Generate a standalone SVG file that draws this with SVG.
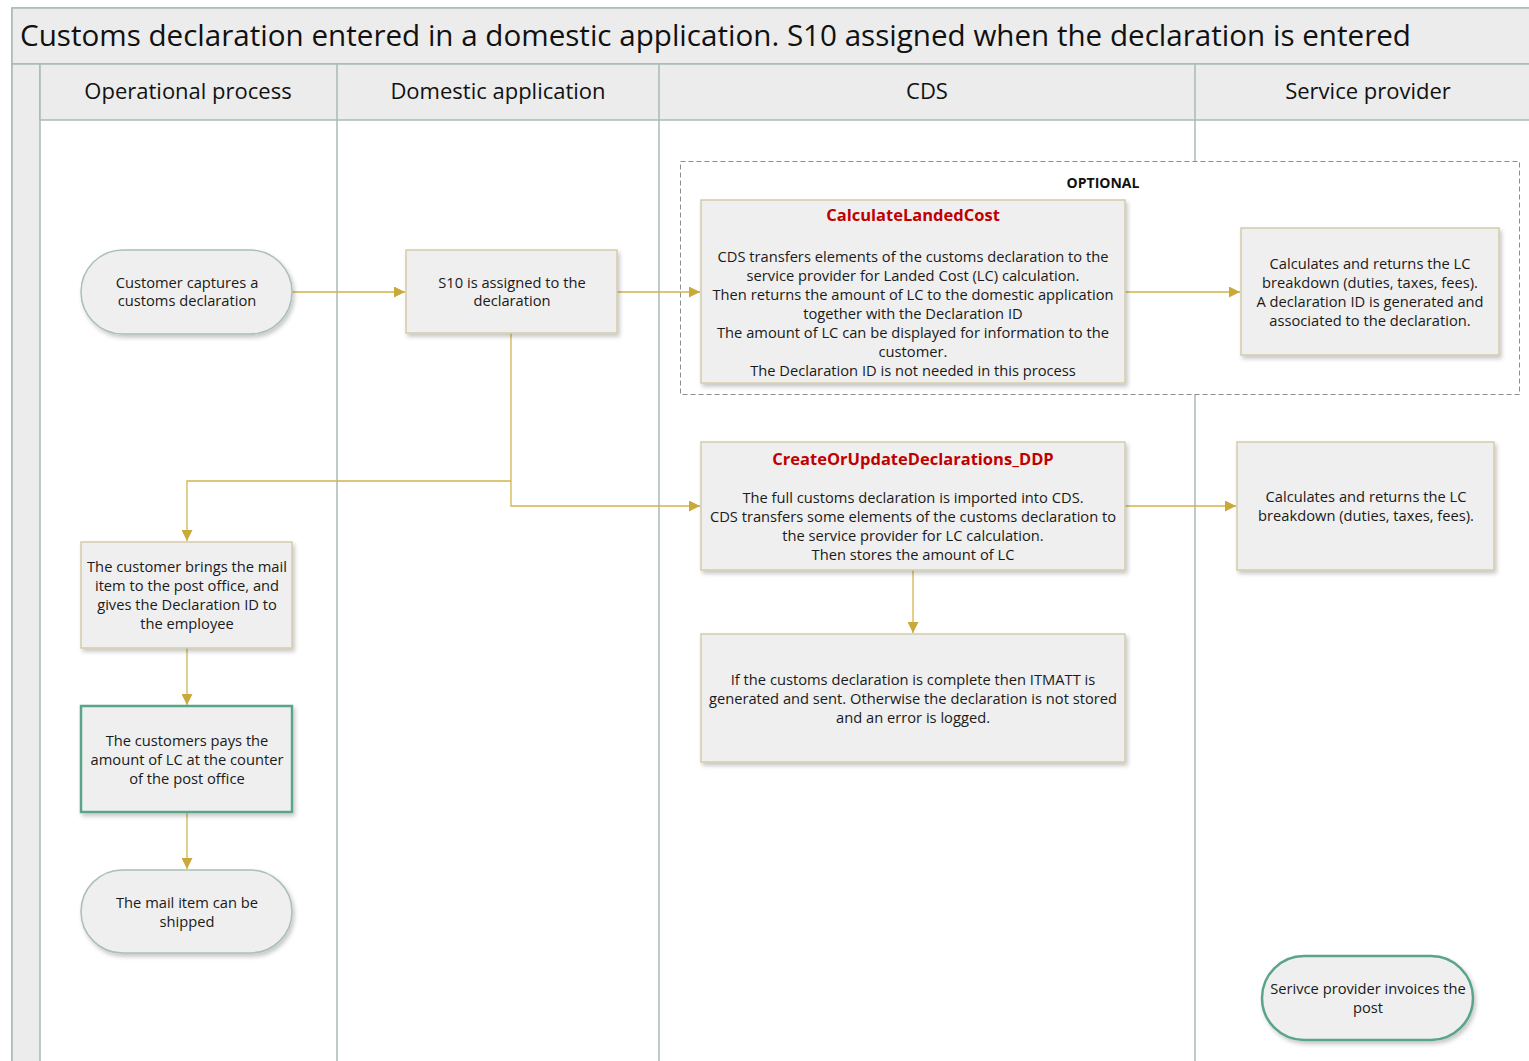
<svg xmlns="http://www.w3.org/2000/svg" width="1529" height="1061" viewBox="0 0 1529 1061">
<style>
.t{font-family:"Open Sans","Noto Sans","Liberation Sans",sans-serif;font-size:14.7px;fill:#1a1a1a;text-anchor:middle}
.h{font-family:"Open Sans","Noto Sans","Liberation Sans",sans-serif;font-size:22px;fill:#111;text-anchor:middle}
.red{font-family:"Open Sans","Noto Sans","Liberation Sans",sans-serif;font-size:16.5px;font-weight:bold;fill:#c00000;text-anchor:middle}
.box{fill:#efefef;stroke:#d3ccaa;stroke-width:1.5;filter:url(#sh)}
.stad{fill:#efefef;stroke:#a9bfb6;stroke-width:1.5;filter:url(#sh)}
.green{fill:#efefef;stroke:#5aa58a;stroke-width:2.5;filter:url(#sh)}
.lane{stroke:#a7bbb4;stroke-width:1.5;fill:none}
.c{stroke:#d1b54d;stroke-width:1.3;fill:none;marker-end:url(#ah)}
</style>
<defs>
<filter id="sh" x="-10%" y="-10%" width="130%" height="130%">
<feDropShadow dx="2" dy="3" stdDeviation="2" flood-color="#000" flood-opacity="0.22"/>
</filter>
<marker id="ah" viewBox="0 0 10 10" refX="10" refY="5" markerWidth="11" markerHeight="11" markerUnits="userSpaceOnUse" orient="auto">
<path d="M0,0 L10,5 L0,10 z" fill="#c9a93a"/>
</marker>
</defs>
<rect width="1529" height="1061" fill="#fff"/>
<g id="pool">
<rect x="12" y="8" width="1530" height="1070" fill="#fff" stroke="#a7bbb4" stroke-width="1.5"/>
<rect x="12" y="8" width="1530" height="56" fill="#ececec" stroke="#a7bbb4" stroke-width="1.5"/>
<text x="20" y="46" style="font-family:'Open Sans','Noto Sans','Liberation Sans',sans-serif;font-size:29.6px;fill:#111">Customs declaration entered in a domestic application. S10 assigned when the declaration is entered</text>
<rect x="12" y="64" width="28" height="1010" fill="#ececec" stroke="#a7bbb4" stroke-width="1.5"/>
<rect x="40" y="64" width="1500" height="56" fill="#ececec" stroke="#a7bbb4" stroke-width="1.5"/>
<line class="lane" x1="337" y1="64" x2="337" y2="1061"/>
<line class="lane" x1="659" y1="64" x2="659" y2="1061"/>
<line class="lane" x1="1195" y1="64" x2="1195" y2="1061"/>
<text class="h" x="188" y="99">Operational process</text>
<text class="h" x="498" y="99">Domestic application</text>
<text class="h" x="927" y="99">CDS</text>
<text class="h" x="1368" y="99">Service provider</text>
</g>
<g id="optional">
<rect x="680.5" y="161.5" width="839" height="233" fill="#fff" stroke="#8c8c8c" stroke-width="1" stroke-dasharray="5,3"/>
<text x="1103" y="188" style="font-family:'Open Sans','Noto Sans','Liberation Sans',sans-serif;font-size:14px;font-weight:bold;fill:#111;text-anchor:middle">OPTIONAL</text>
</g>
<g id="connectors">
<path class="c" d="M292,292 H405"/>
<path class="c" d="M617,292 H700"/>
<path class="c" d="M1125,292 H1240"/>
<path class="c" d="M511,333 V506 H700"/>
<path class="c" d="M511,481 H187 V541"/>
<path class="c" d="M1125,506 H1236"/>
<path class="c" d="M913,570 V633"/>
<path class="c" d="M187,648 V705"/>
<path class="c" d="M187,812 V869"/>
</g>
<g id="n1"><rect class="stad" x="81" y="250" width="211" height="84" rx="42"/>
<text class="t" x="187" y="288">Customer captures a</text><text class="t" x="187" y="306">customs declaration</text></g>
<g id="n2"><rect class="box" x="406" y="250" width="211" height="83"/>
<text class="t" x="512" y="288">S10 is assigned to the</text><text class="t" x="512" y="306">declaration</text></g>
<g id="n3"><rect class="box" x="701" y="200" width="424" height="183"/>
<text class="red" x="913" y="221">CalculateLandedCost</text>
<text class="t" x="913" y="262">CDS transfers elements of the customs declaration to the</text>
<text class="t" x="913" y="281">service provider for Landed Cost (LC) calculation.</text>
<text class="t" x="913" y="300">Then returns the amount of LC to the domestic application</text>
<text class="t" x="913" y="319">together with the Declaration ID</text>
<text class="t" x="913" y="338">The amount of LC can be displayed for information to the</text>
<text class="t" x="913" y="357">customer.</text>
<text class="t" x="913" y="376">The Declaration ID is not needed in this process</text></g>
<g id="n4"><rect class="box" x="1241" y="228" width="258" height="127"/>
<text class="t" x="1370" y="269">Calculates and returns the LC</text>
<text class="t" x="1370" y="288">breakdown (duties, taxes, fees).</text>
<text class="t" x="1370" y="307">A declaration ID is generated and</text>
<text class="t" x="1370" y="326">associated to the declaration.</text></g>
<g id="n5"><rect class="box" x="701" y="442" width="424" height="128"/>
<text class="red" x="913" y="465">CreateOrUpdateDeclarations_DDP</text>
<text class="t" x="913" y="503">The full customs declaration is imported into CDS.</text>
<text class="t" x="913" y="522">CDS transfers some elements of the customs declaration to</text>
<text class="t" x="913" y="541">the service provider for LC calculation.</text>
<text class="t" x="913" y="560">Then stores the amount of LC</text></g>
<g id="n6"><rect class="box" x="1237" y="442" width="257" height="128"/>
<text class="t" x="1366" y="502">Calculates and returns the LC</text>
<text class="t" x="1366" y="521">breakdown (duties, taxes, fees).</text></g>
<g id="n7"><rect class="box" x="701" y="634" width="424" height="128"/>
<text class="t" x="913" y="685">If the customs declaration is complete then ITMATT is</text>
<text class="t" x="913" y="704">generated and sent. Otherwise the declaration  is not stored</text>
<text class="t" x="913" y="723">and an error is logged.</text></g>
<g id="n8"><rect class="box" x="81" y="542" width="211" height="106"/>
<text class="t" x="187" y="572">The customer brings the mail</text>
<text class="t" x="187" y="591">item to the post office, and</text>
<text class="t" x="187" y="610">gives the Declaration ID to</text>
<text class="t" x="187" y="629">the employee</text></g>
<g id="n9"><rect class="green" x="81" y="706" width="211" height="106"/>
<text class="t" x="187" y="746">The customers pays the</text>
<text class="t" x="187" y="765">amount of LC at the counter</text>
<text class="t" x="187" y="784">of the post office</text></g>
<g id="n10"><rect class="stad" x="81" y="870" width="211" height="83" rx="41.5"/>
<text class="t" x="187" y="908">The mail item can be</text>
<text class="t" x="187" y="927">shipped</text></g>
<g id="n11"><rect class="green" x="1262" y="956" width="211" height="84" rx="42"/>
<text class="t" x="1368" y="994">Serivce provider invoices the</text>
<text class="t" x="1368" y="1013">post</text></g>
</svg>
